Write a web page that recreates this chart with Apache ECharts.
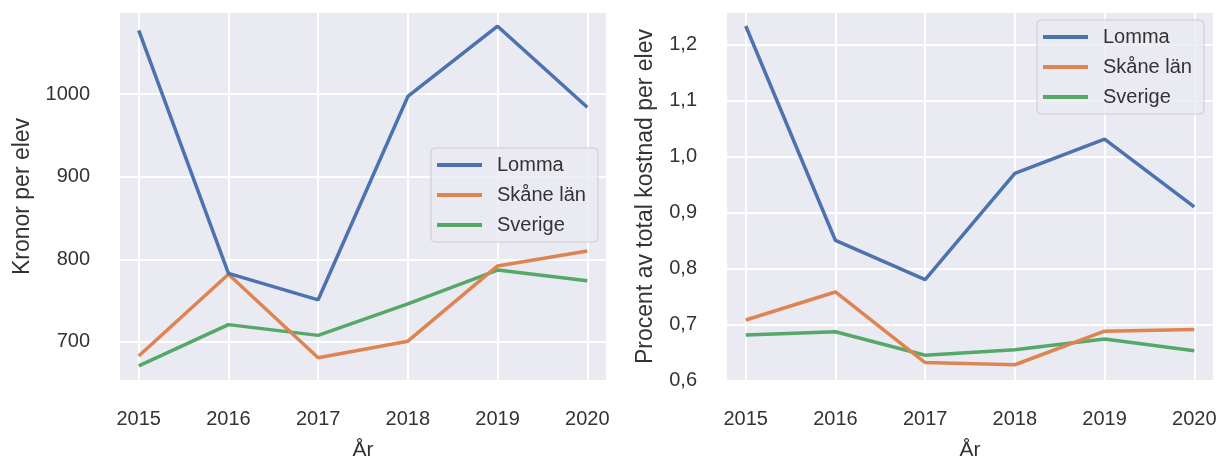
<!DOCTYPE html>
<html>
<head>
<meta charset="utf-8">
<script src="https://cdn.jsdelivr.net/npm/echarts@6/dist/echarts.min.js"></script>
<style>
  html, body { margin: 0; padding: 0; background: #fff; }
  #chart { width: 1217px; height: 459px; }
</style>
</head>
<body>
<div id="chart"></div>
<script>
// years on the x axis
const years = [2015, 2016, 2017, 2018, 2019, 2020]
const seriesNames = ['Lomma', 'Skåne län', 'Sverige']

// left panel: kronor per elev
const kronorLomma = [1077, 783, 751, 997, 1082, 984]
const kronorSkane = [683, 782, 681, 701, 792, 810]
const kronorSverige = [671, 721, 708, 746, 787, 774]

// right panel: procent av total kostnad per elev
const procentLomma = [1.233, 0.850, 0.780, 0.970, 1.031, 0.910]
const procentSkane = [0.708, 0.758, 0.632, 0.628, 0.688, 0.691]
const procentSverige = [0.681, 0.687, 0.645, 0.655, 0.674, 0.653]

const colors = ['#4c72b0', '#dd8452', '#55a868']
const textColor = '#333333'
const font = 'Liberation Sans, Arial, sans-serif'

const pairs = (vals) => years.map((y, i) => [y, vals[i]])

const xAxisBase = (gridIndex) => ({
  type: 'value',
  gridIndex,
  min: 2014.78,
  max: 2020.22,
  name: 'År',
  nameLocation: 'middle',
  nameGap: 59,
  nameTextStyle: { fontSize: 21, color: textColor, fontFamily: font },
  axisLine: { show: false },
  axisTick: { show: false },
  axisLabel: {
    margin: 28,
    fontSize: 20,
    color: textColor,
    fontFamily: font,
    formatter: (v) => (Number.isInteger(v) ? String(v) : '')
  },
  splitLine: { show: true, lineStyle: { color: '#ffffff', width: 2 } }
})

const lineSeries = (name, vals, idx, axisIndex) => ({
  name,
  type: 'line',
  xAxisIndex: axisIndex,
  yAxisIndex: axisIndex,
  data: pairs(vals),
  showSymbol: false,
  symbol: 'none',
  lineStyle: { width: 3.5, color: colors[idx] },
  itemStyle: { color: colors[idx] },
  emphasis: { disabled: true },
  z: 3 - idx
})

const legendBase = (left, top) => ({
  orient: 'vertical',
  left,
  top,
  data: seriesNames,
  icon: 'rect',
  itemWidth: 45,
  itemHeight: 4,
  itemGap: 10,
  padding: [7, 12, 7, 6],
  backgroundColor: 'rgba(234,234,242,0.8)',
  borderColor: '#cccccc',
  borderWidth: 1,
  borderRadius: 4,
  textStyle: {
    fontSize: 20,
    color: textColor,
    fontFamily: font,
    lineHeight: 20,
    padding: [0, 0, 0, 10]
  }
})

const gridBase = (left) => ({
  left,
  top: 12,
  width: 488,
  height: 369,
  show: true,
  backgroundColor: '#eaeaf2',
  borderWidth: 0,
  containLabel: false,
  outerBoundsMode: 'none'
})

const chart = echarts.init(document.getElementById('chart'))

chart.setOption({
  animation: false,
  color: colors,
  grid: [gridBase(119), gridBase(726)],
  legend: [legendBase(431, 148), legendBase(1037, 20)],
  xAxis: [xAxisBase(0), xAxisBase(1)],
  yAxis: [
    {
      type: 'value',
      gridIndex: 0,
      min: 652.8,
      max: 1099.2,
      name: 'Kronor per elev',
      nameLocation: 'middle',
      nameGap: 85,
      nameTextStyle: { fontSize: 23, color: textColor, fontFamily: font },
      axisLine: { show: false },
      axisTick: { show: false },
      axisLabel: {
        margin: 29,
        fontSize: 20,
        color: textColor,
        fontFamily: font,
        formatter: (v) => (v % 100 === 0 ? String(v) : '')
      },
      splitLine: { show: true, lineStyle: { color: '#ffffff', width: 2 } }
    },
    {
      type: 'value',
      gridIndex: 1,
      min: 0.599,
      max: 1.258,
      name: 'Procent av total kostnad per elev',
      nameLocation: 'middle',
      nameGap: 69,
      nameTextStyle: { fontSize: 23, color: textColor, fontFamily: font },
      axisLine: { show: false },
      axisTick: { show: false },
      axisLabel: {
        margin: 29,
        fontSize: 20,
        color: textColor,
        fontFamily: font,
        formatter: (v) =>
          Math.abs(v * 10 - Math.round(v * 10)) < 1e-6 ? v.toFixed(1).replace('.', ',') : ''
      },
      splitLine: { show: true, lineStyle: { color: '#ffffff', width: 2 } }
    }
  ],
  series: [
    lineSeries('Lomma', kronorLomma, 0, 0),
    lineSeries('Skåne län', kronorSkane, 1, 0),
    lineSeries('Sverige', kronorSverige, 2, 0),
    lineSeries('Lomma', procentLomma, 0, 1),
    lineSeries('Skåne län', procentSkane, 1, 1),
    lineSeries('Sverige', procentSverige, 2, 1)
  ]
})
</script>
</body>
</html>
